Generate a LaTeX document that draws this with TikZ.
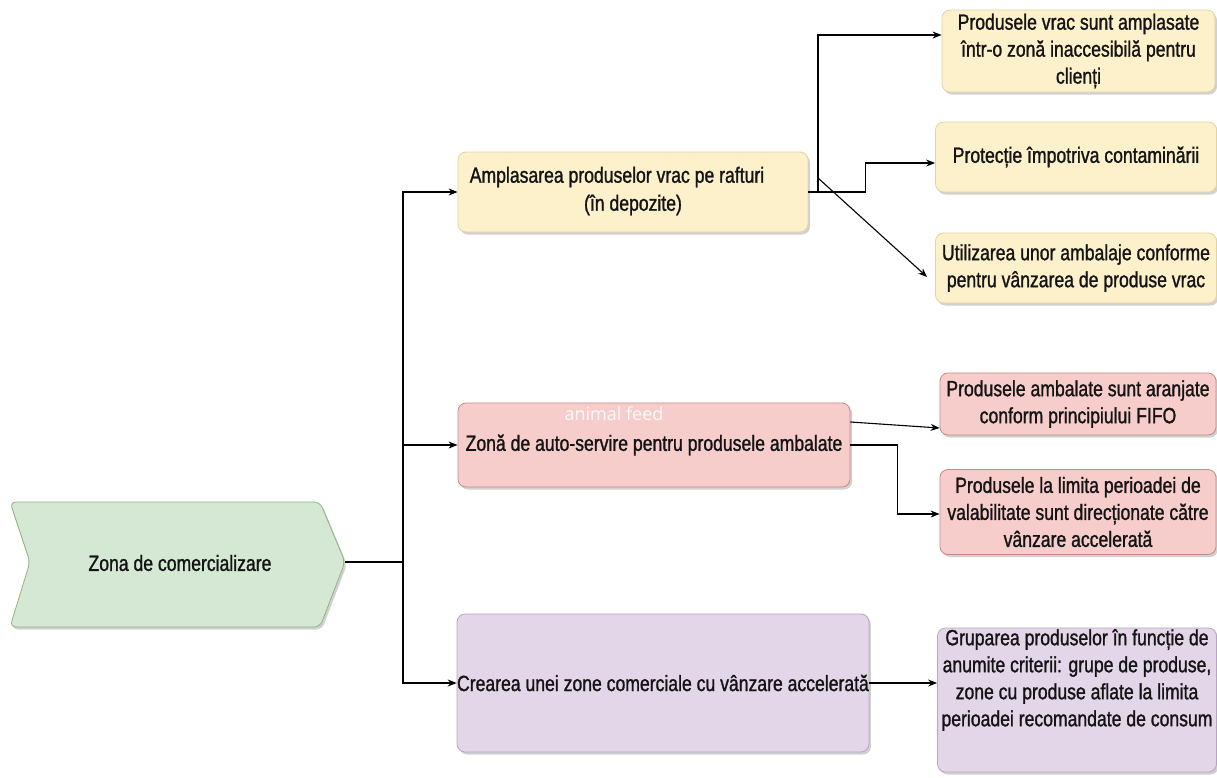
\documentclass[tikz,border=0pt]{standalone}
\usepackage{fontspec}
\usetikzlibrary{arrows.meta,shadows,calc}
\newfontfamily\dfont{Liberation Sans}[FakeStretch=0.8,FakeBold=1.2]
\newfontfamily\wmfont{Open Sans}
\newcommand\dtext{\dfont\fontsize{22}{27}\selectfont}
\definecolor{txtc}{HTML}{141414}
\definecolor{yfill}{HTML}{FDF1CB}
\definecolor{ydraw}{HTML}{E3D3A0}
\definecolor{rfill}{HTML}{F6CDCB}
\definecolor{rdraw}{HTML}{C98A86}
\definecolor{pfill}{HTML}{E3D6E8}
\definecolor{pdraw}{HTML}{B9A3C2}
\definecolor{gfill}{HTML}{D5E8D4}
\definecolor{gdraw}{HTML}{8DB57A}
\tikzset{
  box/.style={draw, rounded corners=8pt, line width=0.8pt, align=center, inner sep=0pt,
    font=\dtext, text=txtc,
    drop shadow={shadow xshift=2pt, shadow yshift=-2.5pt, opacity=0.18, fill=black}},
  ybox/.style={box, fill=yfill, draw=ydraw},
  rbox/.style={box, fill=rfill, draw=rdraw},
  pbox/.style={box, fill=pfill, draw=pdraw},
  txt/.style={font=\dtext, text=txtc, align=center, inner sep=0pt},
  ln/.style={line width=1.1pt, draw=black},
  arr/.style={ln, -{Stealth[length=9pt,width=7pt]}},
}
\begin{document}
\begin{tikzpicture}[x=1pt,y=-1pt]
\useasboundingbox (0,0) rectangle (1217,777);
\fill[white] (0,0) rectangle (1217,777);

% left chevron
\draw[fill=gfill, draw=gdraw, line width=0.8pt, rounded corners=6pt,
  drop shadow={shadow xshift=2pt, shadow yshift=-2.5pt, opacity=0.18, fill=black}]
  (10,502) -- (320,502) -- (345,562) -- (320,627) -- (10,627) -- (30,562) -- cycle;
\node[txt] (zona) at (180,563) {Zona de comercializare};
\coordinate (zonatip) at (345,562);
\coordinate (trunk) at (403,562);

% middle boxes
\node[ybox, minimum width=350pt, minimum height=80pt] (b1) at (633,192) {};
\node[txt] (b1a) at (617,177) {Amplasarea produselor vrac pe rafturi};
\node[txt] (b1b) at (633,205) {(în depozite)};

\node[rbox, minimum width=392pt, minimum height=84pt] (b2) at (654,445)
  {Zonă de auto-servire pentru produsele ambalate};
\node[font=\wmfont\fontsize{18}{20}\selectfont, text=white, opacity=0.9, inner sep=0pt] (wm) at (614,414) {animal feed};

\node[pbox, minimum width=410pt, minimum height=138pt] (b3) at (663,683)
  {Crearea unei zone comerciale cu vânzare accelerată};

% right boxes
\node[ybox, minimum width=273pt, minimum height=82pt] (y1) at (1078.5,51)
  {Produsele vrac sunt amplasate\\într-o zonă inaccesibilă pentru\\clienți};
\node[ybox, minimum width=281pt, minimum height=70pt] (y2) at (1076,157)
  {Protecție împotriva contaminării};
\node[ybox, minimum width=281pt, minimum height=70pt] (y3) at (1076,268)
  {Utilizarea unor ambalaje conforme\\pentru vânzarea de produse vrac};

\node[rbox, minimum width=276pt, minimum height=62pt] (p1) at (1078,404)
  {Produsele ambalate sunt aranjate\\conform principiului FIFO};
\node[rbox, minimum width=276pt, minimum height=85pt] (p2) at (1078,512)
  {Produsele la limita perioadei de\\valabilitate sunt direcționate către\\vânzare accelerată};

\node[pbox, minimum width=279pt, minimum height=144pt] (p3) at (1077,700) {};
\node[txt] (p3t) at (1077,680) {Gruparea produselor în funcție de\\anumite criterii: grupe de produse,\\zone cu produse aflate la limita\\perioadei recomandate de consum};

% connectors
\draw[ln] (zonatip) -- (trunk);
\draw[arr] (trunk) |- (b1.west);
\draw[arr] (trunk) |- (b2.west);
\draw[arr] (trunk) |- (b3.west);

\coordinate (k1) at (818,192);
\draw[arr] (b1.east) -- (k1) |- ([yshift=16pt]y1.west);
\draw[arr] (b1.east) -- ++(57,0) |- ([yshift=-6pt]y2.west);
\draw[arr] ([yshift=14pt]k1) -- ([xshift=-8pt,yshift=-9pt]y3.west);

\draw[arr] ([yshift=23pt]b2.east) -- ([yshift=-24pt]p1.west);
\draw[arr] (b2.east) -- ++(47,0) |- ([yshift=-2pt]p2.west);

\draw[arr] (b3.east) -- (b3.east -| p3.west);
\end{tikzpicture}
\end{document}
